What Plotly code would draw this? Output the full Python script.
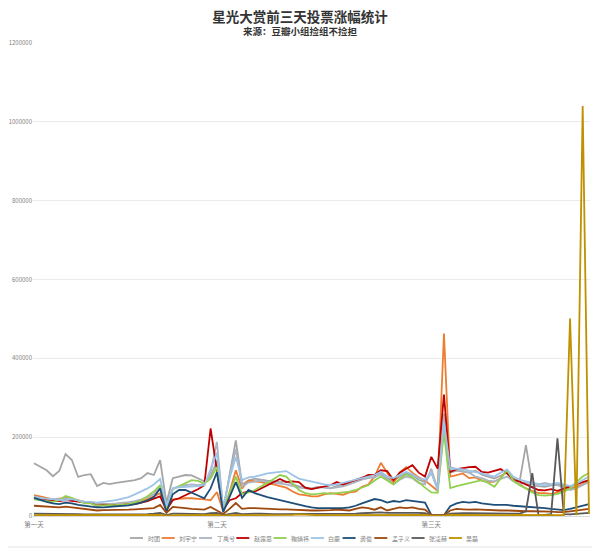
import plotly.graph_objects as go

# ---------------- data ----------------
tick_index = [0, 29, 63]
tick_labels = ["第一天", "第二天", "第三天"]

names = ["时团", "刘宇宁", "丁禹兮", "赵露思", "鞠婧祎", "白鹿", "龚俊", "孟子义", "张凌赫", "吴磊"]
colors = ["#a5a5a5", "#ed7d31", "#aab4c2", "#c00000", "#92d050", "#9dc3e6", "#1f4e79", "#9e480e", "#595959", "#bf9000"]

shituan = [134000, 124000, 116000, 101000, 114000, 157000, 142000, 99000, 104000, 106000,
           76000, 84000, 81000, 84000, 86000, 89000, 91000, 96000, 109000, 104000,
           142000, 33000, 96000, 100000, 104000, 103000, 95000, 88000, 100000, 140000,
           15000, 100000, 192000, 80000, 90000, 95000, 92000, 90000, 88000, 86000,
           88000, 80000, 75000, 72000, 70000, 74000, 72000, 70000, 76000, 80000,
           84000, 92000, 98000, 100000, 104000, 110000, 96000, 88000, 100000, 108000,
           104000, 92000, 86000, 110000, 70000, 225000, 110000, 115000, 112000, 110000,
           115000, 105000, 100000, 95000, 102000, 110000, 95000, 88000, 180000, 80000,
           76000, 74000, 78000, 80000, 76000, 70000, 72000, 80000, 88000]

liuyuning = [53000, 50000, 46000, 42000, 44000, 46000, 44000, 40000, 36000, 35000,
             30000, 31000, 30000, 30000, 30000, 31000, 33000, 36000, 42000, 50000,
             58000, 20000, 42000, 44000, 45000, 45000, 44000, 42000, 40000, 61000,
             12000, 60000, 116000, 70000, 90000, 88000, 86000, 82000, 80000, 76000,
             72000, 62000, 55000, 53000, 50000, 50000, 55000, 58000, 56000, 54000,
             60000, 62000, 74000, 80000, 100000, 135000, 110000, 84000, 111000, 124000,
             110000, 98000, 90000, 78000, 64000, 463000, 100000, 104000, 108000, 96000,
             98000, 90000, 86000, 87000, 96000, 116000, 90000, 80000, 70000, 64000,
             58000, 58000, 56000, 60000, 66000, 70000, 74000, 80000, 86000]

dingyuxi = [50000, 46000, 42000, 40000, 42000, 45000, 42000, 38000, 36000, 36000,
            30000, 30000, 31000, 32000, 33000, 35000, 38000, 42000, 48000, 55000,
            75000, 20000, 70000, 75000, 78000, 80000, 78000, 80000, 110000, 188000,
            18000, 100000, 170000, 75000, 85000, 88000, 90000, 86000, 84000, 82000,
            80000, 76000, 72000, 70000, 68000, 72000, 74000, 70000, 72000, 75000,
            80000, 86000, 92000, 96000, 98000, 106000, 92000, 80000, 92000, 100000,
            96000, 84000, 80000, 120000, 68000, 260000, 124000, 118000, 114000, 110000,
            100000, 96000, 90000, 88000, 95000, 100000, 88000, 80000, 86000, 72000,
            80000, 84000, 80000, 78000, 72000, 66000, 70000, 78000, 87000]

zhaolusi = [45000, 42000, 40000, 38000, 38000, 40000, 38000, 36000, 34000, 33000,
            26000, 28000, 27000, 27000, 28000, 29000, 30000, 34000, 38000, 44000,
            50000, 15000, 40000, 45000, 52000, 60000, 68000, 78000, 222000, 116000,
            15000, 40000, 45000, 58000, 62000, 62000, 70000, 78000, 88000, 94000,
            86000, 88000, 86000, 72000, 68000, 71000, 74000, 78000, 86000, 80000,
            86000, 91000, 96000, 104000, 104000, 116000, 114000, 91000, 110000, 120000,
            129000, 110000, 100000, 150000, 120000, 308000, 112000, 119000, 122000, 124000,
            125000, 112000, 110000, 114000, 119000, 108000, 92000, 87000, 80000, 72000,
            66000, 65000, 68000, 64000, 70000, 76000, 81000, 86000, 91000]

jujingyi = [42000, 40000, 38000, 36000, 40000, 51000, 46000, 38000, 32000, 32000,
            26000, 27000, 27000, 28000, 29000, 30000, 34000, 40000, 50000, 62000,
            78000, 18000, 68000, 76000, 84000, 91000, 89000, 82000, 95000, 124000,
            15000, 55000, 100000, 56000, 60000, 66000, 74000, 84000, 94000, 104000,
            100000, 84000, 66000, 58000, 55000, 56000, 58000, 56000, 58000, 60000,
            62000, 66000, 72000, 78000, 90000, 100000, 90000, 80000, 94000, 106000,
            98000, 84000, 72000, 60000, 59000, 213000, 71000, 76000, 80000, 84000,
            88000, 91000, 84000, 74000, 95000, 116000, 90000, 78000, 70000, 60000,
            53000, 52000, 53000, 56000, 62000, 70000, 86000, 100000, 109000]

bailu = [48000, 45000, 44000, 43000, 42000, 40000, 43000, 40000, 36000, 36000,
         34000, 36000, 38000, 40000, 44000, 48000, 55000, 62000, 70000, 80000,
         94000, 25000, 70000, 73000, 74000, 74000, 76000, 78000, 120000, 160000,
         20000, 95000, 150000, 91000, 98000, 100000, 104000, 108000, 110000, 112000,
         114000, 104000, 95000, 91000, 88000, 84000, 80000, 78000, 80000, 84000,
         88000, 92000, 96000, 100000, 104000, 112000, 100000, 96000, 104000, 112000,
         106000, 96000, 92000, 110000, 66000, 240000, 118000, 120000, 118000, 115000,
         112000, 108000, 104000, 100000, 110000, 118000, 100000, 92000, 88000, 85000,
         82000, 78000, 80000, 84000, 80000, 76000, 82000, 90000, 100000]

gongjun = [46000, 40000, 36000, 32000, 30000, 34000, 32000, 28000, 26000, 25000,
           22000, 22000, 23000, 24000, 25000, 27000, 30000, 34000, 40000, 48000,
           70000, 10000, 55000, 66000, 66000, 60000, 52000, 45000, 70000, 111000,
           10000, 48000, 86000, 46000, 66000, 58000, 52000, 48000, 44000, 40000,
           36000, 32000, 28000, 25000, 22000, 20000, 20000, 20000, 20000, 20000,
           22000, 26000, 32000, 38000, 43000, 40000, 34000, 38000, 36000, 40000,
           38000, 36000, 34000, 3000, 2000, 2000, 25000, 32000, 36000, 34000,
           36000, 32000, 30000, 28000, 28000, 28000, 26000, 25000, 24000, 23000,
           22000, 20000, 18000, 16000, 15000, 18000, 22000, 26000, 30000]

mengziyi = [26000, 25000, 24000, 22000, 22000, 24000, 22000, 20000, 18000, 17000,
            14000, 15000, 15000, 16000, 16000, 16000, 17000, 18000, 19000, 20000,
            28000, 8000, 23000, 22000, 20000, 18000, 17000, 16000, 23000, 15000,
            5000, 18000, 33000, 18000, 20000, 20000, 19000, 18000, 18000, 17000,
            17000, 16000, 15000, 14000, 14000, 14000, 14000, 15000, 16000, 15000,
            14000, 18000, 22000, 20000, 16000, 22000, 14000, 18000, 22000, 20000,
            22000, 18000, 16000, 2000, 2000, 2000, 14000, 18000, 17000, 16000,
            17000, 16000, 15000, 15000, 14000, 14000, 13000, 13000, 12000, 12000,
            12000, 11000, 11000, 10000, 10000, 12000, 14000, 16000, 18000]

zhanglinghe = [6000, 6000, 5000, 5000, 5000, 6000, 5000, 5000, 4000, 4000,
               4000, 4000, 4000, 4000, 4000, 4000, 5000, 5000, 5000, 6000,
               8000, 2000, 6000, 6000, 6000, 5000, 5000, 5000, 7000, 8000,
               2000, 5000, 8000, 5000, 6000, 6000, 6000, 5000, 5000, 5000,
               5000, 5000, 5000, 5000, 5000, 5000, 5000, 5000, 5000, 5000,
               5000, 6000, 7000, 8000, 8000, 9000, 8000, 8000, 9000, 9000,
               9000, 8000, 7000, 1000, 1000, 1000, 6000, 7000, 7000, 7000,
               7000, 7000, 6000, 6000, 6000, 6000, 6000, 6000, 12000, 109000,
               1000, 3000, 5000, 197000, 5000, 4000, 5000, 6000, 8000]

wulei = [2000, 2000, 2000, 2000, 2000, 2000, 2000, 2000, 2000, 2000,
         2000, 2000, 2000, 2000, 2000, 2000, 2000, 2000, 2000, 2000,
         3000, 1000, 2000, 2000, 2000, 2000, 2000, 2000, 3000, 3000,
         1000, 2000, 3000, 2000, 2000, 2000, 2000, 2000, 2000, 2000,
         3000, 3000, 4000, 3000, 2000, 2000, 2000, 2000, 2000, 2000,
         2000, 2000, 3000, 3000, 3000, 3000, 3000, 3000, 3000, 3000,
         3000, 3000, 3000, 1000, 1000, 1000, 3000, 3000, 3000, 3000,
         3000, 3000, 3000, 3000, 3000, 3000, 3000, 3000, 3000, 3000,
         3000, 3000, 3000, 3000, 2000, 501000, 2000, 1040000, 5000]

series = [shituan, liuyuning, dingyuxi, zhaolusi, jujingyi, bailu, gongjun, mengziyi, zhanglinghe, wulei]

y_ticks = [0, 200000, 400000, 600000, 800000, 1000000, 1200000]

# ---------------- figure ----------------
FONT = "Noto Sans CJK SC"
OFF = 8                      # page body margin of the html page
W, H = 600 - OFF, 549 - OFF  # figure size so the page fits the window
L, T = 33 - OFF, 43 - OFF    # plot area top-left (window px 33, 43)
PLOT_RIGHT, PLOT_BOTTOM = 590 - OFF, 516 - OFF
R, B = W - PLOT_RIGHT, H - PLOT_BOTTOM
PW, PH = W - L - R, H - T - B


def px_x(px):  # window pixel -> paper x
    return (px - OFF - L) / PW


def px_y(py):  # window pixel -> paper y
    return (H - B - (py - OFF)) / PH


fig = go.Figure()
for name, color, vals in zip(names, colors, series):
    fig.add_trace(go.Scatter(
        x=list(range(len(vals))), y=vals, name=name, mode="lines",
        line=dict(color=color, width=1.8),
    ))

# compact one-row legend, as in the reference
shapes = []
annotations = []
cursor = 130.0
leg_y = px_y(538)
for name, color in zip(names, colors):
    shapes.append(dict(type="line", xref="paper", yref="paper",
                       x0=px_x(cursor), x1=px_x(cursor + 13), y0=leg_y, y1=leg_y,
                       line=dict(color=color, width=1.8)))
    annotations.append(dict(text=name, xref="paper", yref="paper", x=px_x(cursor + 15.5), y=leg_y,
                            xanchor="left", yanchor="middle", showarrow=False,
                            font=dict(family=FONT, size=6, color="#7f7f7f")))
    cursor += 13 + 3 + 5.6 * len(name) + 4.5

annotations.append(dict(text="<b>来源：豆瓣小组捡组不捡担</b>", xref="paper", yref="paper",
                        x=px_x(300), y=px_y(31), xanchor="center", yanchor="middle",
                        showarrow=False, font=dict(family=FONT, size=9.5, color="#333333")))

# light chart border (right and bottom edges visible in the reference)
shapes.append(dict(type="line", xref="paper", yref="paper",
                   x0=px_x(593), x1=px_x(593), y0=px_y(547), y1=px_y(8),
                   line=dict(color="#e3e3e3", width=1)))
shapes.append(dict(type="line", xref="paper", yref="paper",
                   x0=px_x(8), x1=px_x(593), y0=px_y(547), y1=px_y(547),
                   line=dict(color="#e3e3e3", width=1)))

fig.update_layout(
    width=W, height=H,
    margin=dict(l=L, r=R, t=T, b=B, autoexpand=False),
    paper_bgcolor="white", plot_bgcolor="white",
    font=dict(family=FONT, color="#7f7f7f", size=6),
    title=dict(text="<b>星光大赏前三天投票涨幅统计</b>", x=(300 - OFF) / W, xanchor="center",
               y=1 - 9 / H, yanchor="middle", yref="container",
               font=dict(family=FONT, size=13.5, color="#333333")),
    showlegend=False,
    shapes=shapes,
    annotations=annotations,
)
fig.update_xaxes(range=[-0.1586, 88.16], tickmode="array", tickvals=tick_index, ticktext=tick_labels,
                 showgrid=False, zeroline=False, showline=True, linecolor="#d9d9d9", linewidth=1,
                 ticks="", ticklabelstandoff=2, tickfont=dict(size=6.5, color="#7f7f7f"), automargin=False)
fig.update_yaxes(range=[0, 1200000], tickmode="array", tickvals=y_ticks,
                 ticktext=[str(v) for v in y_ticks], showgrid=True, gridcolor="#ebebeb", gridwidth=1,
                 zeroline=False, showline=False, ticks="", tickfont=dict(size=6, color="#7f7f7f"),
                 automargin=False)

fig.write_html("out.html")
